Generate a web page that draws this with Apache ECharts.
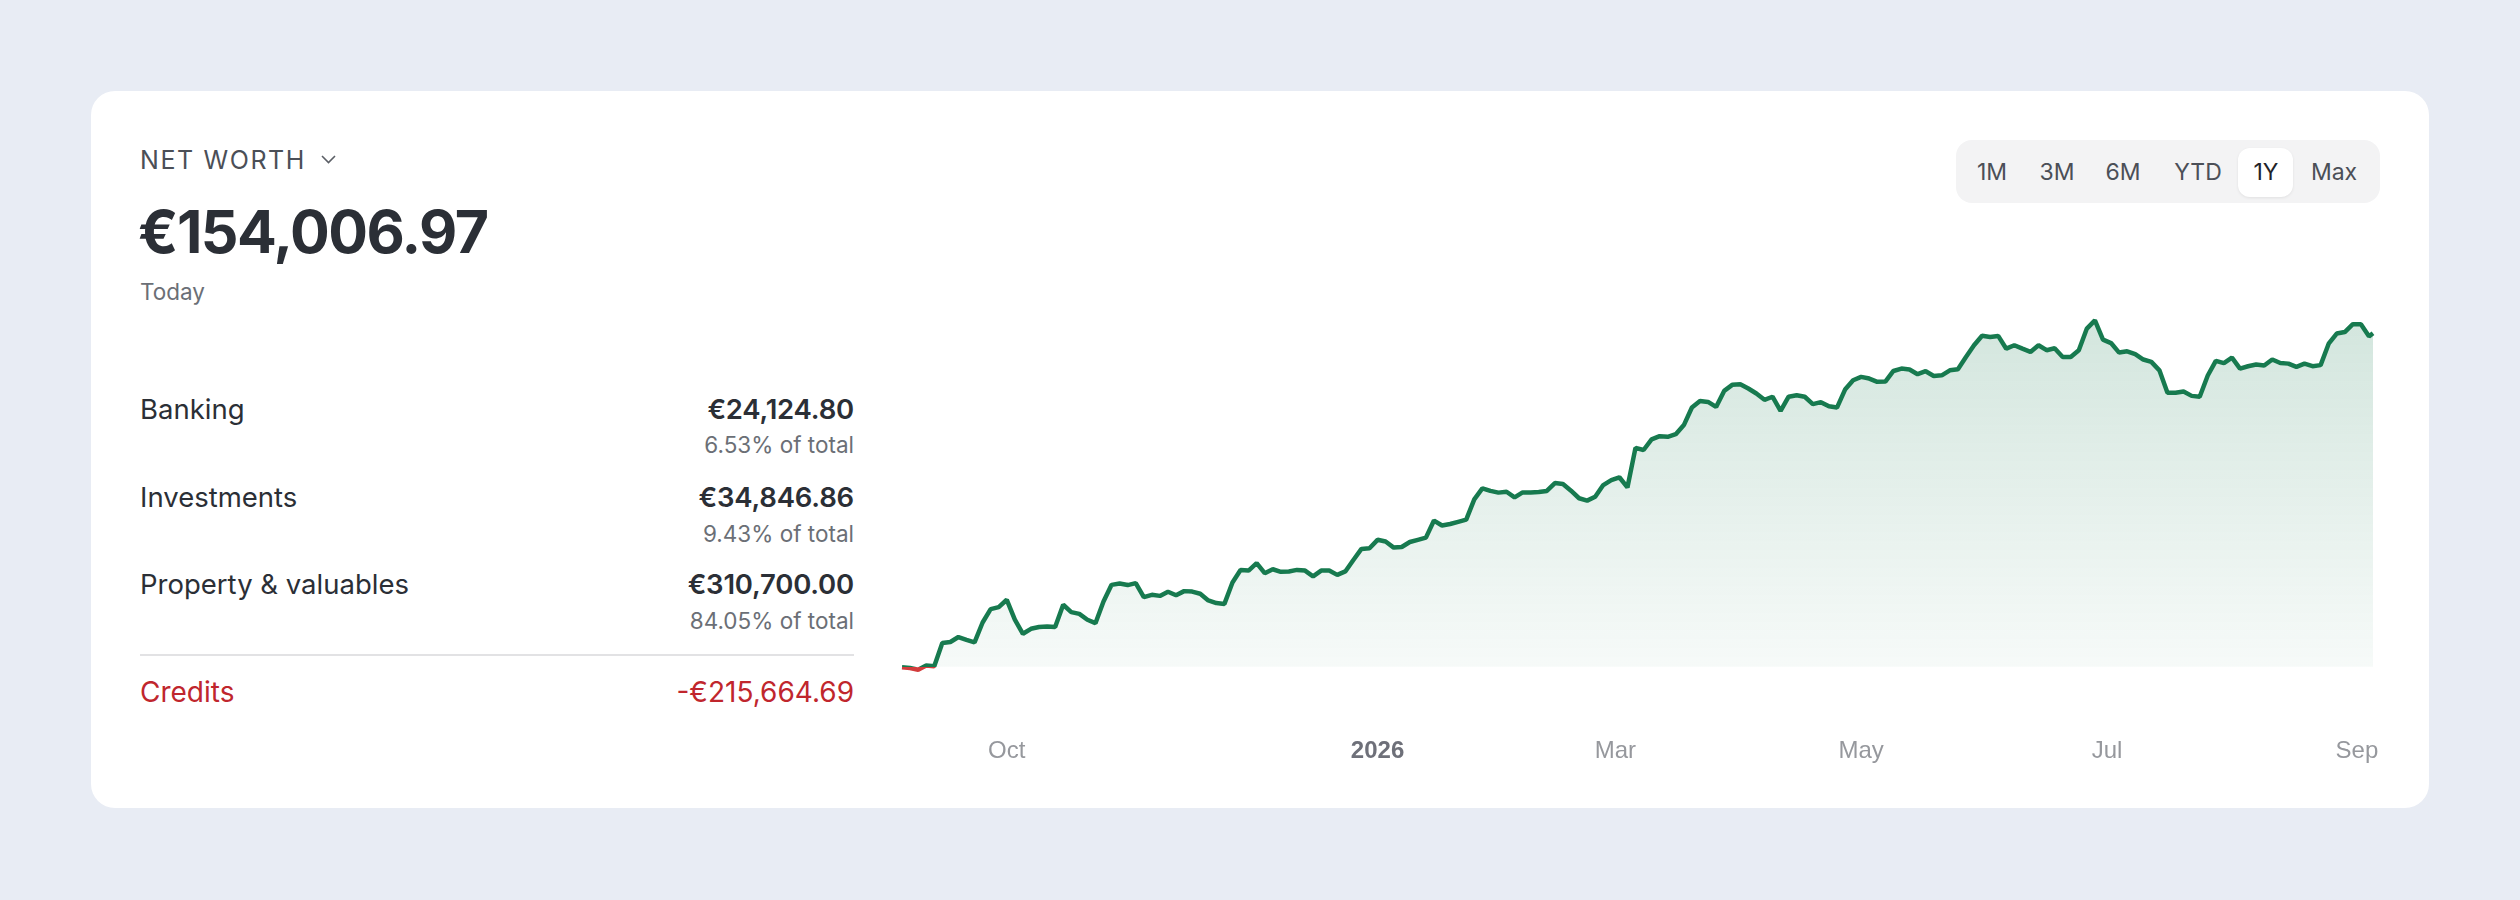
<!DOCTYPE html>
<html>
<head>
<meta charset="utf-8">
<script src="https://cdn.jsdelivr.net/npm/echarts@6/dist/echarts.min.js"></script>
<style>
 html, body { margin: 0; padding: 0; }
 body { width: 2520px; height: 900px; background: #e8ecf4; position: relative; overflow: hidden; font-family: Inter, "Noto Sans", sans-serif; }
 .card { position: absolute; left: 91px; top: 91px; width: 2338px; height: 717px; background: #fff; border-radius: 24px; }
 .t { position: absolute; line-height: 1; white-space: nowrap; }
 .row { position: absolute; left: 140px; width: 714px; display: flex; justify-content: space-between; line-height: 1; white-space: nowrap; }
 .lbl { font-size: 27.5px; color: #2b2f36; }
 .val { font-size: 27.5px; color: #2b2f36; font-weight: 600; letter-spacing: -0.2px; }
 .pct { position: absolute; right: 1666px; line-height: 1; font-size: 22.5px; color: #6b6f76; white-space: nowrap; }
 .btns { position: absolute; left: 1956px; top: 140px; width: 424px; height: 63px; background: #f3f3f4; border-radius: 16px; }
 .pill { position: absolute; left: 282px; top: 8px; width: 55px; height: 49px; background: #fff; border-radius: 12px; box-shadow: 0 1px 3px rgba(0,0,0,0.08); }
 .b { position: absolute; top: 20.8px; width: 80px; text-align: center; font-size: 23px; line-height: 1; color: #4b4f57; }
 #chart { position: absolute; left: 880px; top: 280px; width: 1520px; height: 520px; }
</style>
</head>
<body>
<div class="card"></div>

<div class="t" style="left:140px; top:148.4px; font-size:25px; color:#4b4f57; letter-spacing:1.6px;">NET WORTH</div>
<svg style="position:absolute; left:321px; top:155px;" width="15" height="9" viewBox="0 0 15 9"><path d="M1 1 L7.5 7.5 L14 1" fill="none" stroke="#5b5f66" stroke-width="1.6"/></svg>
<div class="t" style="left:138px; top:201.7px; font-size:59px; font-weight:700; color:#2b2f36; letter-spacing:-1.5px;">€154,006.97</div>
<div class="t" style="left:140px; top:280.6px; font-size:22.5px; color:#6b6f76;">Today</div>

<div class="row" style="top:396.2px;"><span class="lbl">Banking</span><span class="val">€24,124.80</span></div>
<div class="pct" style="top:433.6px;">6.53% of total</div>
<div class="row" style="top:484.2px;"><span class="lbl">Investments</span><span class="val">€34,846.86</span></div>
<div class="pct" style="top:522.6px;">9.43% of total</div>
<div class="row" style="top:571.2px;"><span class="lbl">Property &amp; valuables</span><span class="val">€310,700.00</span></div>
<div class="pct" style="top:609.6px;">84.05% of total</div>
<div style="position:absolute; left:140px; top:654px; width:714px; height:2px; background:#e2e2e4;"></div>
<div class="row" style="top:677.5px;"><span class="lbl" style="color:#c0262d; font-size:28px;">Credits</span><span class="lbl" style="color:#c0262d; font-size:28px;">-€215,664.69</span></div>

<div class="btns">
 <div class="pill"></div>
 <div class="b" style="left:-4px;">1M</div>
 <div class="b" style="left:61px;">3M</div>
 <div class="b" style="left:127px;">6M</div>
 <div class="b" style="left:202px;">YTD</div>
 <div class="b" style="left:270px; color:#1f2329;">1Y</div>
 <div class="b" style="left:338px;">Max</div>
</div>

<div id="chart"></div>

<script>
// net worth, thousands of EUR, one reading every 2 days from 2025-09-05
var startDate = '2025-09-05';
var stepDays = 2;
var netWorth = [
 -0.3, -0.6, -1.4, 0.5, 0.2, 10.9, 11.4, 13.7, 12.4, 11.2,
 20.4, 26.6, 27.5, 30.9, 21.7, 15.2, 17.5, 18.3, 18.6, 18.3,
 28.6, 25.2, 24.4, 21.7, 20.1, 30.1, 37.8, 38.4, 37.7, 38.6,
 32.1, 33.2, 32.7, 34.6, 33.0, 34.9, 34.7, 33.7, 30.6, 29.4,
 29.0, 38.9, 44.7, 44.4, 47.8, 43.2, 45.0, 43.8, 44.0, 44.7,
 44.4, 41.7, 44.4, 44.4, 42.4, 44.0, 49.3, 54.4, 54.7, 58.6,
 57.8, 55.0, 55.3, 57.6, 58.6, 59.6, 67.5, 65.2, 65.9, 66.9,
 67.9, 77.3, 82.4, 81.2, 80.4, 80.8, 78.2, 80.5, 80.5, 80.7,
 81.2, 84.8, 84.4, 81.3, 77.8, 76.7, 78.5, 83.9, 86.2, 87.5,
 82.8, 101.1, 100.1, 105.0, 106.5, 106.2, 107.4, 111.6, 119.7, 122.7,
 122.3, 120.0, 127.4, 130.2, 130.5, 128.5, 126.2, 123.3, 124.7, 118.2,
 124.7, 125.4, 124.7, 121.3, 122.2, 120.3, 119.7, 128.0, 132.3, 133.9,
 133.1, 131.6, 131.7, 136.6, 137.7, 137.3, 135.1, 136.5, 134.3, 134.6,
 136.9, 137.4, 143.1, 148.5, 152.9, 152.3, 152.8, 146.9, 148.5, 146.9,
 145.4, 148.5, 146.2, 147.1, 143.1, 143.1, 146.2, 156.2, 160.0, 151.1,
 149.5, 145.1, 145.7, 144.4, 141.9, 140.8, 136.9, 126.5, 126.5, 127.1,
 125.1, 124.7, 134.5, 141.3, 140.2, 142.8, 137.7, 138.8, 139.6, 139.1,
 141.9, 140.3, 140.0, 138.5, 140.0, 138.8, 139.3, 149.2, 153.9, 154.6,
 158.2, 158.2, 152.6
];
// today's reading, one day after the last 2-day step
var endDate = '2026-09-05';
var todayValue = 154.0;
var tickDates = ['2025-10-01', '2026-01-01', '2026-03-01', '2026-05-01', '2026-07-01', '2026-09-01'];
var monthNames = ['Jan', 'Feb', 'Mar', 'Apr', 'May', 'Jun', 'Jul', 'Aug', 'Sep', 'Oct', 'Nov', 'Dec'];

var green = '#177a4f';
var red = '#d23c3c';

function day(s, plus) {
 var p = s.split('-');
 return new Date(+p[0], +p[1] - 1, +p[2] + (plus || 0)).getTime();
}

var points = [];
netWorth.forEach(function(v, i) {
 points.push([day(startDate, i * stepDays), v]);
});
points.push([day(endDate), todayValue]);

var chart = echarts.init(document.getElementById('chart'));
var option = {
 animation: false,
 grid: { left: 22, right: 27, top: 36, bottom: 129 },
 xAxis: {
  type: 'value',
  min: day(startDate),
  max: day(endDate),
  axisLine: { show: false },
  axisTick: { show: false },
  splitLine: { show: false },
  axisLabel: {
   customValues: tickDates.map(function(s) { return day(s); }),
   margin: 68,
   fontSize: 24,
   color: '#96989d',
   formatter: function(v) {
    var d = new Date(v);
    if (d.getMonth() === 0) return '{y|' + d.getFullYear() + '}';
    return monthNames[d.getMonth()];
   },
   rich: {
    y: { fontSize: 24, fontWeight: 'bold', color: '#6e7079' }
   }
  }
 },
 yAxis: {
  type: 'value',
  min: -2,
  max: 162,
  show: false,
  splitLine: { show: false }
 },
 series: [
  {
   type: 'line',
   data: points,
   showSymbol: false,
   lineStyle: { width: 4.5, color: green },
   areaStyle: {
    origin: 0,
    color: new echarts.graphic.LinearGradient(0, 0, 0, 1, [
     { offset: 0, color: 'rgba(23,122,79,0.27)' },
     { offset: 1, color: 'rgba(23,122,79,0.05)' }
    ])
   }
  }
 ]
};
chart.setOption(option);

// line turns red below zero: split the stroke colour at the pixel row of 0
var zeroY = chart.convertToPixel({ yAxisIndex: 0 }, 0);
var h = chart.getHeight();
var f = zeroY / h;
chart.setOption({
 series: [{
  lineStyle: {
   color: new echarts.graphic.LinearGradient(0, 0, 0, h, [
    { offset: 0, color: green },
    { offset: f, color: green },
    { offset: f, color: red },
    { offset: 1, color: red }
   ], true)
  }
 }]
});
</script>
</body>
</html>
